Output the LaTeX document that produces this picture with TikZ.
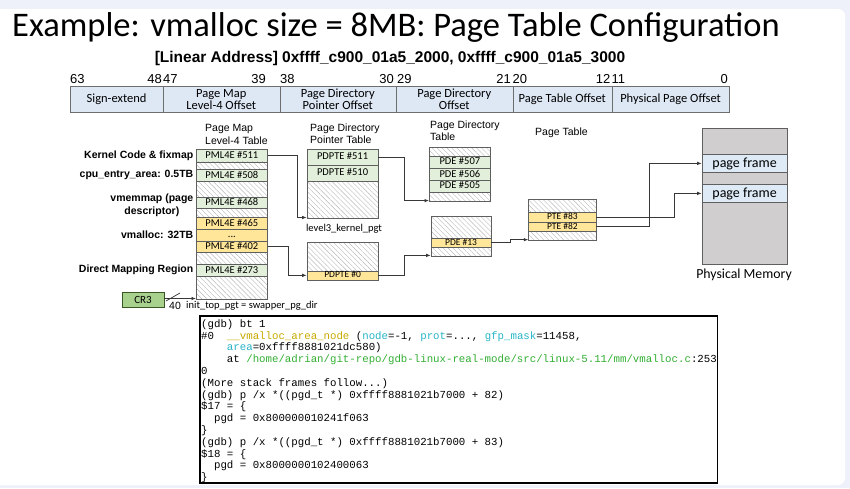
\documentclass[tikz,border=0pt]{standalone}
\usepackage{fontspec}
\setmainfont{Carlito}
\newfontfamily\arial{Liberation Sans}
\newfontfamily\mono{Liberation Mono}
\usetikzlibrary{patterns.meta,arrows.meta}
\definecolor{bgout}{RGB}{238,241,250}
\definecolor{barfill}{RGB}{222,232,245}
\definecolor{bardraw}{RGB}{110,110,110}
\definecolor{grfill}{RGB}{226,239,218}
\definecolor{ylfill}{RGB}{255,230,153}
\definecolor{tbdraw}{RGB}{95,95,95}
\definecolor{memfill}{RGB}{208,206,206}
\definecolor{pffill}{RGB}{222,235,247}
\definecolor{crfill}{RGB}{169,209,142}
\definecolor{crdraw}{RGB}{56,87,35}
\definecolor{gdbyel}{RGB}{200,170,0}
\definecolor{gdbcyan}{RGB}{40,180,200}
\definecolor{gdbgreen}{RGB}{50,175,50}
\newcommand\cell[6]{\node[#1, minimum width=#4pt, minimum height=#5pt] (#2) at (#3) {#6};}
\newcommand\gl[3]{\node[gline] (#1) at (201,#2) {#3};}
\begin{document}
\begin{tikzpicture}[x=1pt,y=-1pt,
  barseg/.style={draw=bardraw, fill=barfill, line width=0.6pt, anchor=north west, minimum height=26pt, inner sep=0pt, align=center, font=\fontsize{12.5}{11.5}\selectfont},
  bitn/.style={inner sep=0pt, font=\arial\fontsize{13}{13}\selectfont},
  cellbase/.style={draw=tbdraw, line width=0.7pt, inner sep=0pt, anchor=north west, font=\fontsize{10.5}{10.5}\selectfont, text height=7pt, text depth=2pt},
  greenrow/.style={cellbase, fill=grfill},
  yellowrow/.style={cellbase, fill=ylfill},
  yellowsmall/.style={yellowrow, font=\fontsize{9.5}{9.5}\selectfont, text height=6.3pt, text depth=1.7pt},
  hatchrow/.style={cellbase, pattern={Lines[angle=-45,distance=3.5pt,line width=0.4pt]}, pattern color=gray!55},
  hdr/.style={font=\arial\fontsize{10.5}{12.4}\selectfont, align=left, anchor=north west, inner sep=0pt},
  lbl/.style={font=\arial\bfseries\fontsize{10.5}{12.7}\selectfont, anchor=east, inner sep=0pt, align=center},
  smalltext/.style={font=\fontsize{10.5}{10.5}\selectfont, inner sep=0pt},
  conn/.style={draw=black!78, line width=0.75pt, -{Latex[length=4.5pt,width=3.5pt]}},
  gline/.style={anchor=base west, inner sep=0pt, font=\mono\fontsize{10.74}{11.8}\selectfont}
]
\useasboundingbox (0,0) rectangle (850,488);
\fill[bgout] (0,0) rectangle (850,488);
\fill[white, rounded corners=7pt] (-10,9) rectangle (845,485);

% title
\node[anchor=base west, inner sep=0pt, font=\fontsize{34.5}{40}\selectfont] (title) at (12,36) {Example: vmalloc size = 8MB: Page Table Configuration};
\node[font=\arial\bfseries\fontsize{15.5}{16}\selectfont, inner sep=0pt] (lin) at (390,58) {[Linear Address] 0xffff\_c900\_01a5\_2000, 0xffff\_c900\_01a5\_3000};

% bit numbers
\node[bitn, anchor=base west] (n63) at (70,83) {63};
\node[bitn, anchor=base east] (n48) at (162,83) {48};
\node[bitn, anchor=base west] (n47) at (163,83) {47};
\node[bitn, anchor=base east] (n39) at (266,83) {39};
\node[bitn, anchor=base west] (n38) at (280,83) {38};
\node[bitn, anchor=base east] (n30) at (394,83) {30};
\node[bitn, anchor=base west] (n29) at (397,83) {29};
\node[bitn, anchor=base east] (n21) at (511,83) {21};
\node[bitn, anchor=base west] (n20) at (512.5,83) {20};
\node[bitn, anchor=base east] (n12) at (610.5,83) {12};
\node[bitn, anchor=base west] (n11) at (611.5,83) {11};
\node[bitn, anchor=base east] (n0) at (728,83) {0};

% address bar
\node[barseg, minimum width=92.5pt] (bsign) at (70,86) {Sign-extend};
\node[barseg, minimum width=117pt] (bpml) at (162.5,86) {Page Map\\Level-4 Offset};
\node[barseg, minimum width=116pt] (bpdpt) at (279.5,86) {Page Directory\\Pointer Offset};
\node[barseg, minimum width=117pt] (bpd) at (395.5,86) {Page Directory\\Offset};
\node[barseg, minimum width=99pt] (bpt) at (512.5,86) {Page Table Offset};
\node[barseg, minimum width=117.5pt] (bphy) at (611.5,86) {Physical Page Offset};

% headers
\node[hdr] (hpml) at (205,124.5) {Page Map\\Level-4 Table};
\node[hdr, font=\arial\fontsize{10.5}{11.7}\selectfont] (hpdpt) at (310,123.5) {Page Directory\\Pointer Table};
\node[hdr] (hpd) at (430,120.5) {Page Directory\\Table};
\node[hdr] (hpt) at (535,127.5) {Page Table};

% left labels
\node[lbl] (lk) at (193.5,155.7) {Kernel Code \& fixmap};
\node[lbl] (lc) at (193.5,175.3) {cpu\_entry\_area: 0.5TB};
\node[lbl] (lv) at (193.5,205.3) {vmemmap (page\\descriptor)};
\node[lbl] (lm) at (193.5,234.3) {vmalloc: 32TB};
\node[lbl] (ld) at (193.5,270) {Direct Mapping Region};

% PML4 table
\cell{greenrow}{m511}{196,149.3}{71}{12.4}{PML4E \#511}
\cell{hatchrow}{mh1}{196,161.7}{71}{7.6}{}
\cell{greenrow}{m508}{196,169.3}{71}{11.7}{PML4E \#508}
\cell{hatchrow}{mh2}{196,181}{71}{15.7}{}
\cell{greenrow}{m468}{196,196.7}{71}{11.6}{PML4E \#468}
\cell{hatchrow}{mh3}{196,208.3}{71}{9}{}
\cell{yellowrow}{m465}{196,217.3}{71}{11.7}{PML4E \#465}
\cell{yellowrow}{mdots}{196,229}{71}{11.7}{...}
\cell{yellowrow}{m402}{196,240.7}{71}{11}{PML4E \#402}
\cell{hatchrow}{mh4}{196,251.7}{71}{12.6}{}
\cell{greenrow}{m273}{196,264.3}{71}{11.7}{PML4E \#273}
\cell{hatchrow}{mh5}{196,276}{71}{23.3}{}

% PDPT tables
\cell{greenrow}{d511}{306.7,149}{71}{16}{PDPTE \#511}
\cell{greenrow}{d510}{306.7,165}{71}{16}{PDPTE \#510}
\cell{hatchrow}{dh1}{306.7,181}{71}{37.3}{}
\cell{hatchrow}{dh2}{306.7,241.7}{71}{28.8}{}
\cell{yellowsmall}{d0}{306.7,270.5}{71}{9}{PDPTE \#0}

% PD tables
\cell{hatchrow}{ph1}{429,146.7}{61}{9}{}
\cell{greenrow}{p507}{429,155.7}{61}{12.6}{PDE \#507}
\cell{greenrow}{p506}{429,168.3}{61}{11.7}{PDE \#506}
\cell{greenrow}{p505}{429,180}{61}{11.7}{PDE \#505}
\cell{hatchrow}{ph2}{429,191.7}{61}{6.6}{}
\cell{hatchrow}{ph3}{430.7,216}{60}{22.3}{}
\cell{yellowsmall}{p13}{430.7,238.3}{60}{8.4}{PDE \#13}
\cell{hatchrow}{ph4}{430.7,246.7}{60}{6}{}

% PT
\cell{hatchrow}{th1}{528.3,199.3}{67.4}{13}{}
\cell{yellowsmall}{t83}{528.3,212.3}{67.4}{9.4}{PTE \#83}
\cell{yellowsmall}{t82}{528.3,221.7}{67.4}{9.3}{PTE \#82}
\cell{hatchrow}{th2}{528.3,231}{67.4}{5.7}{}

% physical memory
\node[draw=tbdraw, fill=memfill, line width=0.8pt, anchor=north west, minimum width=85pt, minimum height=136.3pt, inner sep=0pt] (mem) at (701.7,127.7) {};
\node[draw=tbdraw, fill=pffill, line width=0.8pt, anchor=north west, minimum width=85pt, minimum height=17.4pt, inner sep=0pt, font=\fontsize{14}{14}\selectfont] (pf1) at (701.7,154.3) {page frame};
\node[draw=tbdraw, fill=pffill, line width=0.8pt, anchor=north west, minimum width=85pt, minimum height=17.4pt, inner sep=0pt, font=\fontsize{14}{14}\selectfont] (pf2) at (701.7,184.3) {page frame};
\node[font=\fontsize{13.8}{14}\selectfont, inner sep=0pt] (pmlabel) at (744,275) {Physical Memory};

% labels under tables
\node[smalltext] (l3k) at (344,228.3) {level3\_kernel\_pgt};
\node[smalltext, anchor=west] (itp) at (186,305.5) {init\_top\_pgt = swapper\_pg\_dir};

% CR3
\node[draw=crdraw, fill=crfill, line width=0.9pt, minimum width=42pt, minimum height=15pt, inner sep=0pt, font=\fontsize{11}{11}\selectfont] (cr3) at (143,299.5) {CR3};
\coordinate (mtip) at ([yshift=1.5pt]mh5.south west);
\draw[conn] (cr3.east |- mtip) -- (mtip);
\draw[line width=0.7pt, black!80] (166,301) -- (180,293);
\node[font=\arial\fontsize{10.5}{10.5}\selectfont, inner sep=0pt] (w40) at (175,306) {40};

% connectors
\draw[conn] (m511.east) -- ++(29.3,0) |- ([yshift=1.5pt]dh1.south west);
\draw[conn] (d511.east) -- ++(25.6,0) |- ([yshift=0.8pt]ph2.south west);
\draw[conn] (m402.east) -- ++(21,0) |- (d0.west);
\draw[conn] (d0.east) -- ++(25.6,0) |- ([yshift=1pt]ph4.south west);
\draw[conn] (p13.east) -- ++(18.6,0) |- ([yshift=1pt]th2.south west);
\draw[conn] (t83.east) -- ++(77.6,0) |- (pf2.west);
\draw[conn] (t82.east) -- ++(52.6,0) |- (pf1.west);

% gdb box
\node[draw=black, line width=1.6pt, fill=white, anchor=north west, minimum width=517.5pt, minimum height=167pt, inner sep=0pt] (gdb) at (199,315) {};
\gl{g1}{327.3}{(gdb) bt 1}
\gl{g2}{339.1}{\#0\phantom{00}\textcolor{gdbyel}{\_\_vmalloc\_area\_node} (\textcolor{gdbcyan}{node}=-1, \textcolor{gdbcyan}{prot}=..., \textcolor{gdbcyan}{gfp\_mask}=11458,}
\gl{g3}{350.9}{\phantom{0000}\textcolor{gdbcyan}{area}=0xffff8881021dc580)}
\gl{g4}{362.7}{\phantom{0000}at \textcolor{gdbgreen}{/home/adrian/git-repo/gdb-linux-real-mode/src/linux-5.11/mm/vmalloc.c}:253}
\gl{g5}{374.5}{0}
\gl{g6}{386.3}{(More stack frames follow...)}
\gl{g7}{398.1}{(gdb) p /x *((pgd\_t *) 0xffff8881021b7000 + 82)}
\gl{g8}{409.9}{\$17 = \{}
\gl{g9}{421.7}{\phantom{00}pgd = 0x800000010241f063}
\gl{g10}{433.5}{\}}
\gl{g11}{445.3}{(gdb) p /x *((pgd\_t *) 0xffff8881021b7000 + 83)}
\gl{g12}{457.1}{\$18 = \{}
\gl{g13}{468.9}{\phantom{00}pgd = 0x8000000102400063}
\gl{g14}{480.7}{\}}
\end{tikzpicture}
\end{document}
